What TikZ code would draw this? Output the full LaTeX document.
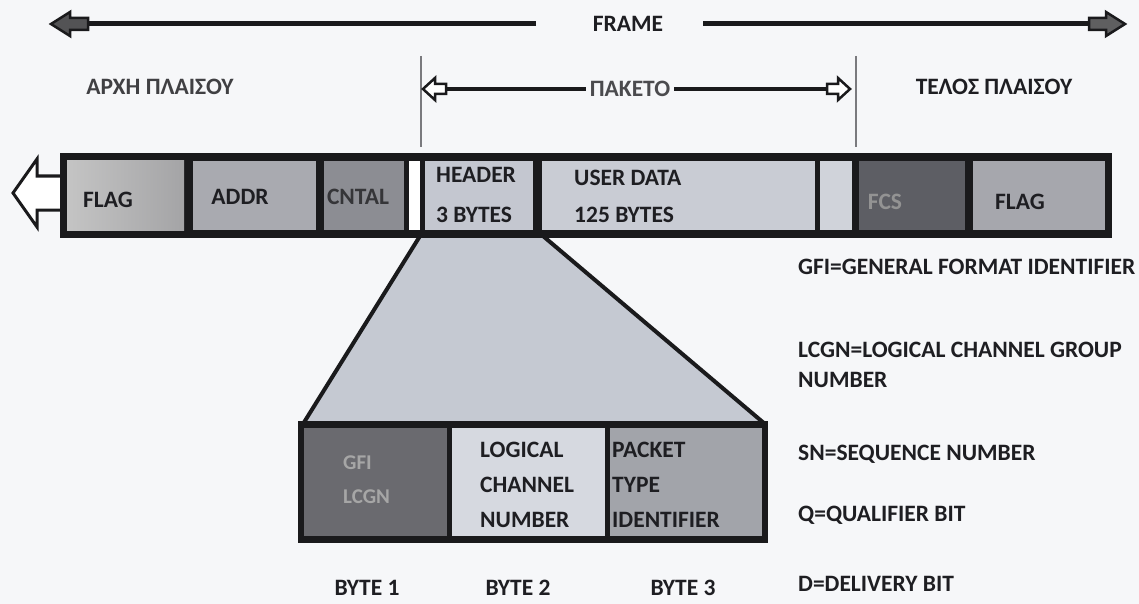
\documentclass[tikz,border=0pt]{standalone}
\usepackage{fontspec}
\setmainfont{Carlito}
\definecolor{bg}{HTML}{F6F7F9}
\definecolor{txt}{HTML}{1E1E22}
\definecolor{barblack}{HTML}{1A1A1C}
\definecolor{flagL}{HTML}{A4A4A6}
\definecolor{flagLb}{HTML}{C4C4C4}
\definecolor{addr}{HTML}{A9AAB0}
\definecolor{cntal}{HTML}{8C8D93}
\definecolor{header}{HTML}{C4C7D0}
\definecolor{udata}{HTML}{C9CCD4}
\definecolor{smallc}{HTML}{D0D3DA}
\definecolor{fcs}{HTML}{5D5E64}
\definecolor{flagR}{HTML}{A6A7AD}
\definecolor{trap}{HTML}{C5C9D2}
\definecolor{gfi}{HTML}{6A6A6F}
\definecolor{lcn}{HTML}{D6D9E0}
\definecolor{pti}{HTML}{A2A4AA}
\definecolor{vline}{HTML}{7A7A7E}
\tikzset{
  lbl/.style={font=\fontsize{23.5}{28}\selectfont\bfseries, inner sep=0pt, text=txt},
  frameline/.style={line width=5pt, draw=barblack},
  pline/.style={line width=4pt, draw=barblack},
  blockhead/.style={draw=barblack, fill=#1, line width=2.5pt, line join=miter},
}
\begin{document}
\begin{tikzpicture}[x=1pt,y=-1pt]
\useasboundingbox (0,0) rectangle (1139,604);
\fill[bg] (0,0) rectangle (1139,604);

% FRAME arrow
\node[lbl] (frame) at (628,24) {FRAME};
\coordinate (flend) at (536,24);
\coordinate (frstart) at (703,24);
\coordinate (fltail) at (86,24);
\coordinate (frtail) at (1091,24);
\draw[frameline] (flend) -- (fltail);
\draw[frameline] (frstart) -- (frtail);
\draw[blockhead=barblack!75] (88,18) -- (70,18) -- (70,12) -- (51,24) -- (70,36) -- (70,30) -- (88,30) -- cycle;
\draw[blockhead=barblack!70] (1089,18) -- (1106,18) -- (1106,12) -- (1125,24) -- (1106,36) -- (1106,30) -- (1089,30) -- cycle;

% vertical markers
\coordinate (v1t) at (421,56);
\coordinate (v1b) at (421,147);
\coordinate (v2t) at (856,56);
\coordinate (v2b) at (856,147);
\draw[vline, line width=1.6pt] (v1t) -- (v1b);
\draw[vline, line width=1.6pt] (v2t) -- (v2b);

% labels
\node[lbl, text=txt!85] (arxh) at (160,87) {ΑΡΧΗ ΠΛΑΙΣΟΥ};
\node[lbl] (telos) at (994,87) {ΤΕΛΟΣ ΠΛΑΙΣΟΥ};

% PAKETO arrow
\node[lbl, text=txt!80, outer sep=4pt] (paketo) at (630,89) {ΠΑΚΕΤΟ};
\coordinate (pltail) at (444,89);
\coordinate (prtail) at (829,89);
\draw[pline] (paketo.west) -- (pltail);
\draw[pline] (paketo.east) -- (prtail);
\draw[blockhead=white] (446,84) -- (435,84) -- (435,78) -- (423,89) -- (435,100) -- (435,94) -- (446,94) -- cycle;
\draw[blockhead=white] (827,84) -- (838,84) -- (838,78) -- (850,89) -- (838,100) -- (838,94) -- (827,94) -- cycle;

% left big arrow
\draw[fill=white, draw=barblack, line width=3pt, line join=miter]
  (60,176) -- (37,176) -- (37,159) -- (13,193) -- (37,227) -- (37,210) -- (60,210);

% frame bar
\fill[barblack] (60,153) rectangle (1112,238);
\shade[left color=flagLb, right color=flagL] (67,161) rectangle (184,230);
\fill[addr] (193,161) rectangle (316,230);
\fill[cntal] (324,161) rectangle (404,230);
\fill[white] (409,161) rectangle (420,230);
\fill[header] (425,161) rectangle (533,230);
\fill[udata] (542,161) rectangle (815,230);
\fill[smallc] (820,161) rectangle (852,230);
\fill[fcs] (859,161) rectangle (965,230);
\fill[flagR] (973,161) rectangle (1105,230);

\node[lbl] (flag1) at (108,200) {FLAG};
\node[lbl] (addrt) at (240,197) {ADDR};
\node[lbl, text=txt!90] (cntalt) at (358,197) {CNTAL};
\node[lbl, align=left, anchor=west, font=\fontsize{23.5}{40}\selectfont\bfseries] (hdr) at (436,195) {HEADER\\3 BYTES};
\node[lbl, align=left, anchor=west, font=\fontsize{23.5}{37}\selectfont\bfseries] (ud) at (574,196) {USER DATA\\125 BYTES};
\node[lbl, text=gray!85] (fcst) at (885,202) {FCS};
\node[lbl] (flag2) at (1020,202) {FLAG};

% trapezoid
\fill[trap] (420,238) -- (303,424) -- (765,424) -- (543,238) -- cycle;
\coordinate (tl) at (420,236);
\coordinate (tr) at (543,236);
\coordinate (bl) at (303,424);
\coordinate (br) at (765,424);
\draw[barblack, line width=4pt, line cap=round] (tl) -- (bl);
\draw[barblack, line width=4pt, line cap=round] (tr) -- (br);

% header box
\fill[barblack] (298,421) rectangle (768,543);
\fill[gfi] (304,428) rectangle (447,536);
\fill[lcn] (452,428) rectangle (605,536);
\fill[pti] (610,428) rectangle (762,536);
\node[lbl, align=left, anchor=west, text=gray!70, font=\fontsize{21}{34}\selectfont\bfseries] (gfit) at (343,480) {GFI\\LCGN};
\node[lbl, align=left, anchor=west, font=\fontsize{23.5}{35}\selectfont\bfseries] (lcnt) at (480,485) {LOGICAL\\CHANNEL\\NUMBER};
\node[lbl, align=left, anchor=west, font=\fontsize{23.5}{35}\selectfont\bfseries] (ptit) at (612,485) {PACKET\\TYPE\\IDENTIFIER};

\node[lbl] (b1) at (367,588) {BYTE 1};
\node[lbl] (b2) at (518,588) {BYTE 2};
\node[lbl] (b3) at (683,588) {BYTE 3};

% legend
\node[lbl, anchor=west] (lg1) at (798,267) {GFI=GENERAL FORMAT IDENTIFIER};
\node[lbl, anchor=west, align=left, font=\fontsize{23.5}{30}\selectfont\bfseries] (lg2) at (798,365) {LCGN=LOGICAL CHANNEL GROUP\\NUMBER};
\node[lbl, anchor=west] (lg3) at (798,454) {SN=SEQUENCE NUMBER};
\node[lbl, anchor=west] (lg4) at (798,515) {Q=QUALIFIER BIT};
\node[lbl, anchor=west] (lg5) at (798,584) {D=DELIVERY BIT};
\end{tikzpicture}
\end{document}
